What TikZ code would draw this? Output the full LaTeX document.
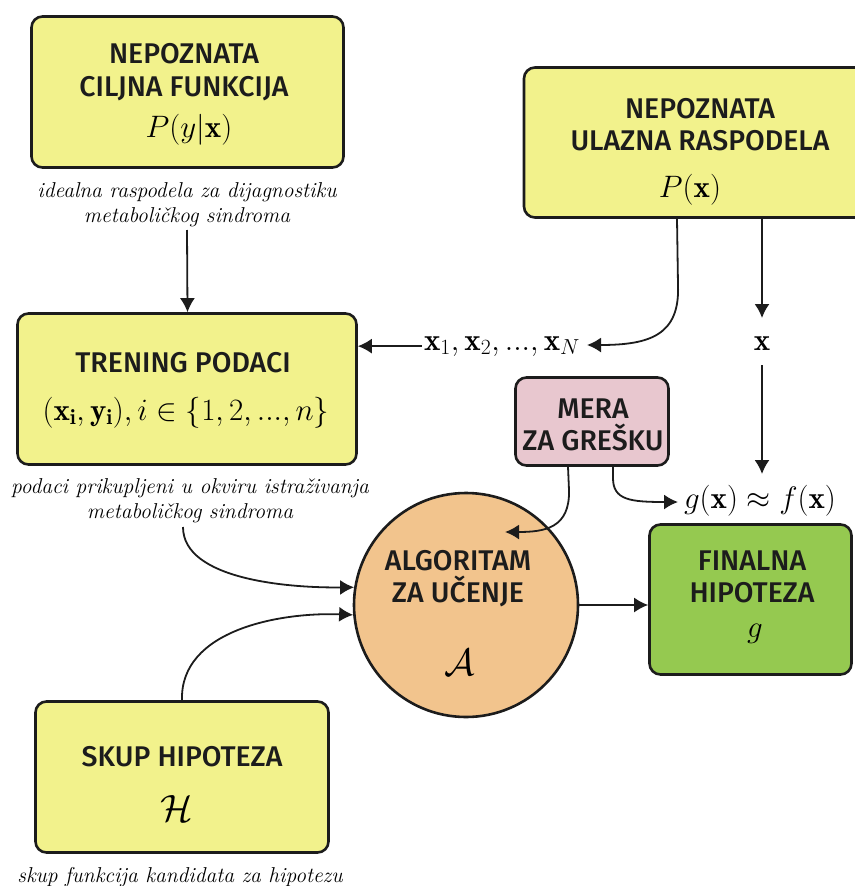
\RequirePackage{fix-cm}
\documentclass[tikz,border=0pt]{standalone}
\usepackage{fontspec}
\newfontfamily\headfont{Fira Sans Medium}
\usetikzlibrary{arrows.meta}
\definecolor{boxyellow}{HTML}{F2F28C}
\definecolor{boxpink}{HTML}{E8C7CF}
\definecolor{boxorange}{HTML}{F2C48D}
\definecolor{boxgreen}{HTML}{95C950}
\definecolor{ink}{HTML}{1C1C1C}
\begin{document}
\begin{tikzpicture}[x=1pt,y=-1pt,
  box/.style={draw=ink, line width=2.6pt, rounded corners=11pt, inner sep=0pt},
  head/.style={anchor=base, inner sep=0pt, text=ink, font=\headfont\fontsize{28.5}{31}\selectfont},
  formula/.style={anchor=base, inner sep=0pt, font=\fontsize{31}{35}\selectfont},
  bigcal/.style={formula, font=\fontsize{38}{42}\selectfont},
  caption/.style={anchor=base, inner sep=0pt, font=\itshape\fontsize{21.5}{25}\selectfont},
  con/.style={draw=ink, line width=1.8pt},
  arr/.style={con, -{Latex[length=14pt,width=15pt]}}]
\useasboundingbox (0,0) rectangle (854,886);

% boxes
\node[box, fill=boxyellow, minimum width=312pt, minimum height=151pt] (cilj) at (187.5,92) {};
\node[box, fill=boxyellow, minimum width=339pt, minimum height=151pt] (trening) at (187,389) {};
\node[box, fill=boxyellow, minimum width=352pt, minimum height=150pt] (ulaz) at (700,142.5) {};
\node[box, fill=boxpink, minimum width=153pt, minimum height=88pt] (mera) at (592,421.5) {};
\node[box, fill=boxyellow, minimum width=293pt, minimum height=151pt] (skup) at (182,777) {};
\node[box, fill=boxgreen, minimum width=202pt, minimum height=150pt] (final) at (750.5,599.5) {};
\node[circle, draw=ink, line width=2.6pt, fill=boxorange, minimum size=224pt, inner sep=0pt] (alg) at (466,605) {};

% box texts
\node[head] (t1a) at (184,63) {NEPOZNATA};
\node[head] (t1b) at (184,96) {CILJNA FUNKCIJA};
\node[formula] (t1c) at (189,137) {$P(y|\mathbf{x})$};

\node[head] (t2a) at (183,372) {TRENING PODACI};
\node[formula] (t2b) at (186,420) {$(\mathbf{x_i},\mathbf{y_i}), i\in\{1,2,...,n\}$};

\node[head] (t3a) at (700,118) {NEPOZNATA};
\node[head] (t3b) at (700,150) {ULAZNA RASPODELA};
\node[formula] (t3c) at (690,197) {$P(\mathbf{x})$};

\node[head] (t4a) at (593,418) {MERA};
\node[head] (t4b) at (593,450) {ZA GREŠKU};

\node[head] (t5a) at (182,766) {SKUP HIPOTEZA};
\node[bigcal] (t5b) at (177,821) {$\mathcal{H}$};

\node[head] (t6a) at (752,570) {FINALNA};
\node[head] (t6b) at (752,602) {HIPOTEZA};
\node[formula] (t6c) at (755,637) {$g$};

\node[head] (t7a) at (458,570) {ALGORITAM};
\node[head] (t7b) at (458,602) {ZA UČENJE};
\node[bigcal] (t7c) at (460,675) {$\mathcal{A}$};

% captions
\node[caption] (c1a) at (187,197) {idealna raspodela za dijagnostiku};
\node[caption] (c1b) at (187,222) {metaboličkog sindroma};
\node[caption] (c2a) at (190,493) {podaci prikupljeni u okviru istraživanja};
\node[caption] (c2b) at (190,518) {metaboličkog sindroma};
\node[caption] (c5a) at (180,882) {skup funkcija kandidata za hipotezu};

% free labels
\node[formula, inner sep=2pt] (xs) at (502,350) {$\mathbf{x}_1,\mathbf{x}_2,...,\mathbf{x}_N$};
\node[formula, inner sep=2pt] (xl) at (762,350) {$\mathbf{x}$};
\node[formula, inner sep=2pt] (gf) at (760,508) {$g(\mathbf{x})\approx f(\mathbf{x})$};

\coordinate (errin) at (505,532);

% connectors
\draw[arr] (c1b.south |- 0,230) -- (cilj.south |- trening.north);
\draw[arr] ([xshift=-23pt]ulaz.south) -- (678,285) .. controls (680,335) and (650,345) .. (587,345);
\draw[arr] (xs.west) -- (trening.east |- xs.west);
\draw[arr] ([xshift=62pt]ulaz.south) -- (762,318);
\draw[arr] (762,365) -- (762,474);
\draw[arr] ([xshift=-24pt]mera.south) -- (569,490) .. controls (570,528) and (545,532) .. (errin);
\draw[arr] ([xshift=21pt]mera.south) -- (613,478) .. controls (613,500) and (630,502) .. (678,502);
\draw[arr] (183,527) .. controls (183,580) and (290,588) .. (alg.171);
\draw[arr] (skup.north |- 0,700) .. controls (180,630) and (280,612) .. (alg.185);
\draw[arr] (alg.east) -- (final.west |- alg.east);
\end{tikzpicture}
\end{document}
